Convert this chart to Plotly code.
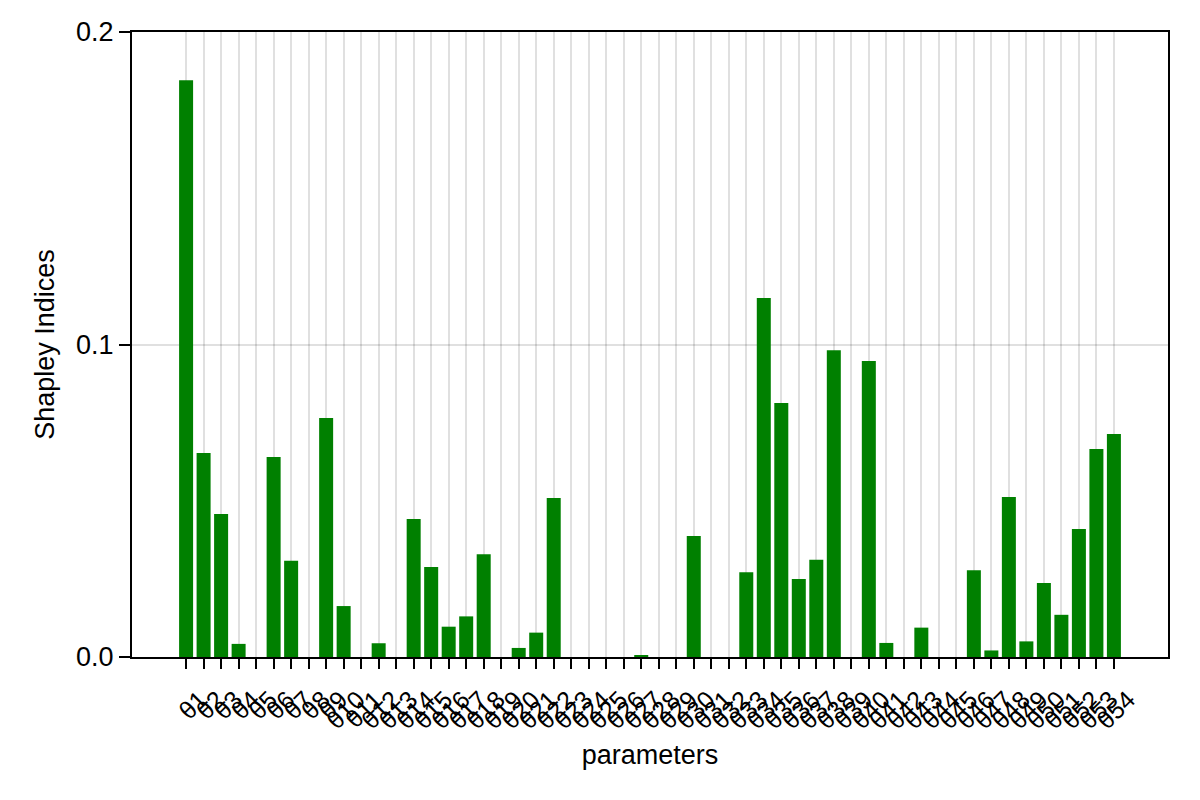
import plotly.graph_objects as go

labels = ["θ%d" % i for i in range(1, 55)]
values = [
    0.1846, 0.0653, 0.0458, 0.0042, 0.0, 0.0640, 0.0308, 0.0, 0.0765, 0.0163,
    0.0, 0.0044, 0.0, 0.0442, 0.0288, 0.0097, 0.0130, 0.0329, 0.0, 0.0029,
    0.0078, 0.0509, 0.0, 0.0, 0.0, 0.0, 0.0005, 0.0, 0.0, 0.0387,
    0.0, 0.0, 0.0271, 0.1149, 0.0813, 0.0250, 0.0311, 0.0982, 0.0, 0.0947,
    0.0045, 0.0, 0.0094, 0.0, 0.0, 0.0278, 0.0021, 0.0512, 0.0050, 0.0237,
    0.0135, 0.0410, 0.0666, 0.0714,
]
y_ticks = [0.0, 0.1, 0.2]
y_ticktext = ["0.0", "0.1", "0.2"]

fig = go.Figure(go.Bar(
    x=labels, y=values,
    marker=dict(color="#008000", line=dict(width=0)),
    width=0.8,
))

font = "Liberation Sans, Arial, sans-serif"
fs = 27
fig.update_layout(
    width=1184, height=784,
    margin=dict(l=124, r=24, t=24, b=135),
    plot_bgcolor="white", paper_bgcolor="white",
    font=dict(family=font, size=fs, color="black"),
    showlegend=False,
)
fig.update_xaxes(
    type="category",
    range=[-3.09, 56.09],
    tickmode="array", tickvals=labels, ticktext=labels,
    automargin=False,
    showgrid=True, gridcolor="rgba(0,0,0,0.12)", gridwidth=1.5,
    showline=True, linecolor="black", linewidth=2, mirror=True,
    ticks="outside", ticklen=10, tickwidth=1.5, tickcolor="black",
    tickangle=-45, ticklabelshift=14, ticklabelstandoff=6,
    tickfont=dict(size=25),
    title=dict(text="parameters", font=dict(size=fs), standoff=12),
)
fig.update_yaxes(
    range=[0, 0.2],
    tickvals=y_ticks, ticktext=y_ticktext,
    automargin=False,
    showgrid=True, gridcolor="rgba(0,0,0,0.12)", gridwidth=1.5,
    zeroline=False,
    showline=True, linecolor="black", linewidth=2, mirror=True,
    ticks="outside", ticklen=11, tickwidth=1.5, tickcolor="black",
    tickfont=dict(size=fs),
    title=dict(text="Shapley Indices", font=dict(size=fs), standoff=14),
)
fig.write_html("out.html")
